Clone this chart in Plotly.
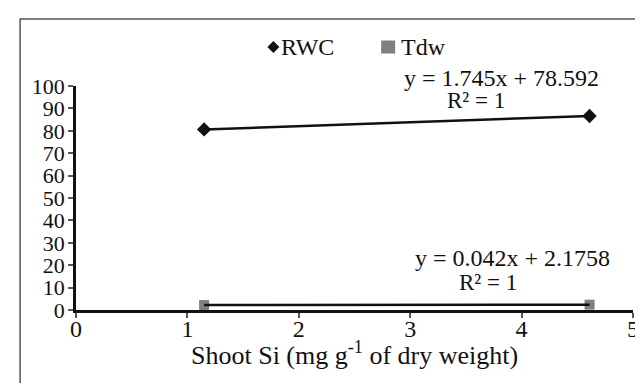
import plotly.graph_objects as go

# Data
shoot_si = [1.15, 4.61]
rwc = [80.6, 86.6]
tdw = [2.22, 2.37]
series_names = ["RWC", "Tdw"]
eq_rwc = "y = 1.745x + 78.592"
eq_tdw = "y = 0.042x + 2.1758"
r2_text = "R² = 1"
x_title = "Shoot Si (mg g<sup>-1</sup> of dry weight)"
x_ticks = [0, 1, 2, 3, 4, 5]
y_ticks = [0, 10, 20, 30, 40, 50, 60, 70, 80, 90, 100]

FONT = "Liberation Serif, Times New Roman, serif"
INK = "#111111"
GREY = "#808080"

fig = go.Figure()
# data markers
fig.add_trace(go.Scatter(x=shoot_si, y=rwc, mode="markers", name=series_names[0],
                         marker=dict(symbol="diamond", size=11, color=INK),
                         showlegend=False))
fig.add_trace(go.Scatter(x=shoot_si, y=tdw, mode="markers", name=series_names[1],
                         marker=dict(symbol="square", size=10, color=GREY),
                         showlegend=False))
# trendlines
fig.add_trace(go.Scatter(x=shoot_si, y=rwc, mode="lines", line=dict(color=INK, width=2.5),
                         showlegend=False, hoverinfo="skip"))
fig.add_trace(go.Scatter(x=shoot_si, y=tdw, mode="lines", line=dict(color=INK, width=2.5),
                         showlegend=False, hoverinfo="skip"))


def px(xp):
    return (xp - 67.5) / 563


def py(yp):
    return (302 - yp) / 224


ann = []
# legend text
ann.append(dict(xref="paper", yref="paper", x=px(273), y=py(39),
                xanchor="left", yanchor="middle", showarrow=False,
                text=series_names[0], font=dict(family=FONT, size=24, color=INK)))
ann.append(dict(xref="paper", yref="paper", x=px(394), y=py(39),
                xanchor="left", yanchor="middle", showarrow=False,
                text=series_names[1], font=dict(family=FONT, size=24, color=INK)))
# equations
ann.append(dict(xref="paper", yref="paper", x=px(498), y=py(70),
                xanchor="center", yanchor="middle", showarrow=False, text=eq_rwc,
                font=dict(family=FONT, size=24, color=INK)))
ann.append(dict(xref="paper", yref="paper", x=px(472), y=py(92),
                xanchor="center", yanchor="middle", showarrow=False, text=r2_text,
                font=dict(family=FONT, size=23, color=INK)))
ann.append(dict(xref="paper", yref="paper", x=px(509), y=py(250),
                xanchor="center", yanchor="middle", showarrow=False, text=eq_tdw,
                font=dict(family=FONT, size=24, color=INK)))
ann.append(dict(xref="paper", yref="paper", x=px(484), y=py(274),
                xanchor="center", yanchor="middle", showarrow=False, text=r2_text,
                font=dict(family=FONT, size=23, color=INK)))
# x-axis title
ann.append(dict(xref="paper", yref="paper", x=px(349), y=py(345),
                xanchor="center", yanchor="middle", showarrow=False, text=x_title,
                font=dict(family=FONT, size=26, color=INK)))

shapes = [
    # outer chart border
    dict(type="rect", xref="paper", yref="paper",
         x0=px(11), x1=1.2, y0=-0.6, y1=py(11),
         line=dict(color="#555555", width=1.5), layer="below"),
    # legend diamond
    dict(type="path", xref="paper", yref="paper", xsizemode="pixel", ysizemode="pixel",
         xanchor=px(267), yanchor=py(39),
         path="M -6 0 L 0 6 L 6 0 L 0 -6 Z", fillcolor=INK, line=dict(width=0)),
    # legend square
    dict(type="rect", xref="paper", yref="paper", xsizemode="pixel", ysizemode="pixel",
         xanchor=px(383), yanchor=py(39),
         x0=-7, x1=7, y0=-6.5, y1=6.5, fillcolor=GREY, line=dict(width=0)),
]

fig.update_layout(
    width=643, height=383,
    margin=dict(l=67.5, r=12.5, t=78, b=81),
    paper_bgcolor="white", plot_bgcolor="white",
    font=dict(family=FONT, size=24, color=INK),
    annotations=ann,
    shapes=shapes,
)
fig.update_xaxes(range=[0, 5], tickvals=x_ticks, ticks="outside", ticklen=5, tickwidth=1.5,
                 tickcolor="#555555", showline=True, linecolor=INK, linewidth=2.5,
                 showgrid=False, zeroline=False, tickfont=dict(size=24),
                 ticklabelstandoff=-10)
fig.update_yaxes(range=[0, 100], tickvals=y_ticks, ticks="outside", ticklen=5, tickwidth=1.5,
                 tickcolor="#555555", showline=True, linecolor=INK, linewidth=2.5,
                 showgrid=False, zeroline=False, tickfont=dict(size=22),
                 ticklabelstandoff=-1)

fig.write_html("out.html")
